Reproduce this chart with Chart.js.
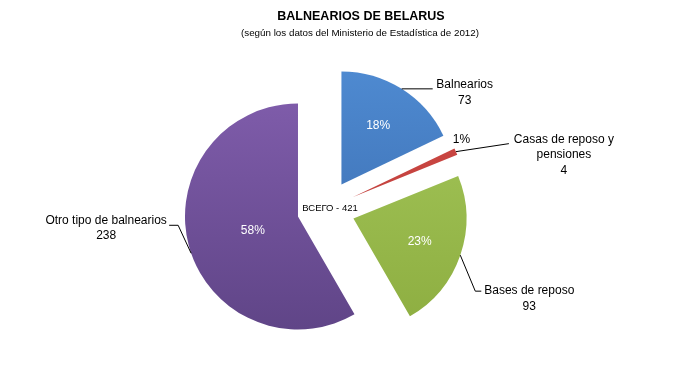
<!DOCTYPE html>
<html>
<head>
<meta charset="utf-8">
<script src="https://cdn.jsdelivr.net/npm/chart.js@4.4.0/dist/chart.umd.min.js"></script>
<style>
  html, body { margin: 0; padding: 0; background: #fff; }
  #wrap { width: 700px; height: 367px; }
</style>
</head>
<body>
<div id="wrap"><canvas id="myChart"></canvas></div>
<script>
// data
const categories = ['Balnearios', 'Casas de reposo y\npensiones', 'Bases de reposo', 'Otro tipo de balnearios'];
const values = [73, 4, 93, 238];
const totalLabel = 'ВСЕГО - 421';
const titleText = 'BALNEARIOS DE BELARUS';
const subtitleText = '(según los datos del Ministerio de Estadística de 2012)';

// styles
const colorsTop = ['#4f8bd2', '#d24a46', '#a6c95c', '#8460b0'];
const colorsBottom = ['#3564a6', '#b33a36', '#8bab3e', '#5c4283'];
const explode = 29;
const pctRadius = [0.61, 1.09, 0.62, 0.42];
const pctAngle = [0, -4, 0, -3];
const pctColor = ['#fff', '#000', '#fff', '#fff'];
// leader lines: start angle tweak (deg), bends relative to start, text offset from the end
const callouts = [
  { angle: 0, legs: [[31, 0]], text: [32, -4] },
  { angle: 0, legs: [[53, -8]], text: [55, -4] },
  { angle: 0, legs: [[15, 36], [21, 36]], text: [48, 0] },
  { angle: -4, legs: [[-13, -28], [-22, -28]], text: [-63, -5] },
];
const lineHeight = 15.5;
const font = '"Liberation Sans", Arial, sans-serif';

const total = values.reduce((a, b) => a + b, 0);

const explodePlugin = {
  id: 'explode',
  afterDatasetUpdate(chart, args) {
    const meta = chart.getDatasetMeta(args.index);
    meta.data.forEach((el) => {
      const mid = (el.startAngle + el.endAngle) / 2;
      el.x += explode * Math.cos(mid);
      el.y += explode * Math.sin(mid);
    });
  },
};

const textPlugin = {
  id: 'texts',
  afterDatasetsDraw(chart) {
    const ctx = chart.ctx;
    const area = chart.chartArea;
    const meta = chart.getDatasetMeta(0);
    ctx.save();
    ctx.textAlign = 'center';
    ctx.textBaseline = 'middle';

    // title
    ctx.fillStyle = '#000';
    ctx.font = 'bold 12.5px ' + font;
    ctx.fillText(titleText, 361, 17);
    ctx.font = '9.8px ' + font;
    ctx.fillText(subtitleText, 360, 33);

    // total in the middle
    ctx.font = '9.5px ' + font;
    ctx.fillText(totalLabel, (area.left + area.right) / 2 + 4, (area.top + area.bottom) / 2 - 1);

    meta.data.forEach((el, i) => {
      const r = el.outerRadius;
      const mid = (el.startAngle + el.endAngle) / 2;

      // percent
      const a = mid + pctAngle[i] * Math.PI / 180;
      const pr = r * pctRadius[i];
      ctx.fillStyle = pctColor[i];
      ctx.font = '12px ' + font;
      ctx.fillText(Math.round(values[i] / total * 100) + '%', el.x + pr * Math.cos(a), el.y + pr * Math.sin(a));

      // leader line
      const c = callouts[i];
      const b = mid + c.angle * Math.PI / 180;
      const sx = el.x + r * Math.cos(b);
      const sy = el.y + r * Math.sin(b);
      ctx.strokeStyle = '#000';
      ctx.lineWidth = 1;
      ctx.beginPath();
      ctx.moveTo(sx, sy);
      c.legs.forEach((p) => ctx.lineTo(sx + p[0], sy + p[1]));
      ctx.stroke();
      const last = c.legs[c.legs.length - 1];
      const tx = sx + last[0] + c.text[0];
      const ty = sy + last[1] + c.text[1];

      const lines = categories[i].split('\n').concat([String(values[i])]);
      ctx.fillStyle = '#000';
      ctx.font = '12px ' + font;
      lines.forEach((ln, k) => ctx.fillText(ln, tx, ty + k * lineHeight));
    });
    ctx.restore();
  },
};

function sliceColor(context) {
  const chart = context.chart;
  const area = chart.chartArea;
  const i = context.dataIndex;
  if (!area) return colorsTop[i];
  const g = chart.ctx.createLinearGradient(0, area.top, 0, area.bottom);
  g.addColorStop(0, colorsTop[i]);
  g.addColorStop(1, colorsBottom[i]);
  return g;
}

const config = {
  type: 'pie',
  data: {
    labels: categories,
    datasets: [
      {
        data: values,
        backgroundColor: sliceColor,
        borderWidth: 0,
        radius: 113,
      },
    ],
  },
  options: {
    responsive: true,
    maintainAspectRatio: false,
    animation: false,
    layout: {
      padding: { left: 0, right: 48, top: 60, bottom: 9 },
    },
    plugins: {
      legend: { display: false },
      tooltip: { enabled: false },
      title: { display: false },
    },
  },
  plugins: [explodePlugin, textPlugin],
};

const myChart = new Chart(document.getElementById('myChart').getContext('2d'), config);
</script>
</body>
</html>
